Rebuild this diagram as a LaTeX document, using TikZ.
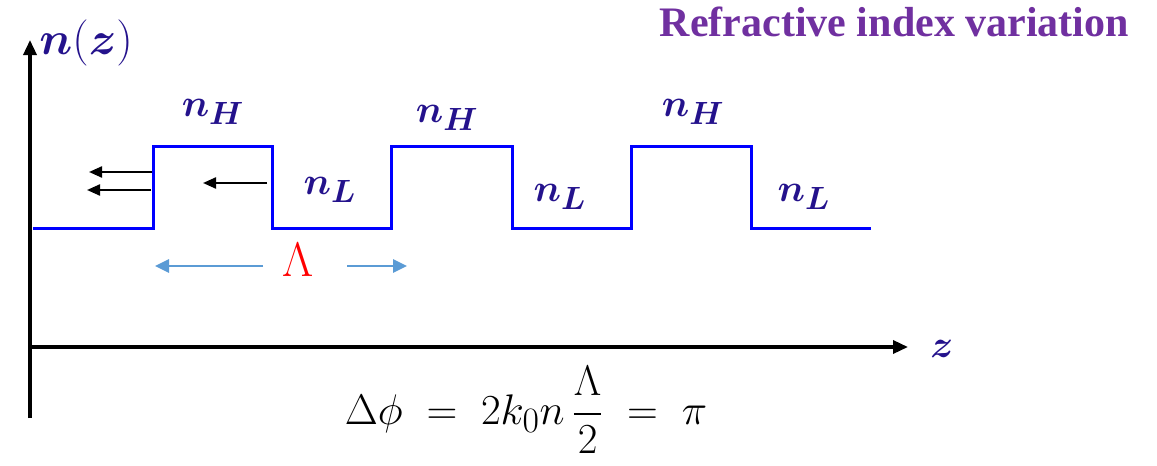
\documentclass[tikz,border=0pt]{standalone}
\usepackage{fontspec}
\usepackage{bm}
\usepackage{amsmath}
\newfontfamily\titlefont{Liberation Serif}
\usetikzlibrary{arrows.meta}
\definecolor{labblue}{RGB}{36,18,140}
\definecolor{titlepurple}{RGB}{112,48,160}
\definecolor{lamblue}{RGB}{91,155,213}
\tikzset{
  axis/.style={line width=3.4pt,-{Triangle[length=15pt,width=13pt]}},
  profile/.style={line width=3pt,color=blue,line join=miter},
  refl/.style={line width=2.2pt,-{Triangle[length=13pt,width=11pt]}},
  lamarrow/.style={line width=2.8pt,color=lamblue,-{Triangle[length=14pt,width=13pt]}},
  idxlabel/.style={text=labblue,font=\Huge,scale=1.55,inner sep=0pt},
}
\begin{document}
\begin{tikzpicture}[x=1pt,y=-1pt]
\useasboundingbox (0,0) rectangle (1157,466);
% axes
\coordinate (o) at (30,347);
\coordinate (ybot) at (30,418);
\coordinate (ytop) at (30,40);
\coordinate (xend) at (908,347);
\draw[line width=3.4pt] (ybot) -- (o);
\draw[axis] (o) -- (ytop);
\draw[axis] (o) -- (xend);
\node[idxlabel,scale=1.2,anchor=west] (nz) at (39,43) {$\bm{n}(\bm{z})$};
\node[idxlabel] (zl) at (942,349) {$\bm{z}$};
% profile
\draw[profile] (33,228) -- (153,228) -- (153,146) -- (272,146) -- (272,228) -- (391,228) -- (391,146)
  -- (512,146) -- (512,228) -- (631,228) -- (631,146) -- (751,146) -- (751,228) -- (871,228);
% labels
\node[idxlabel] (h1) at (213,112) {$\bm{n_H}$};
\node[idxlabel] (h2) at (447,118) {$\bm{n_H}$};
\node[idxlabel] (h3) at (693,112) {$\bm{n_H}$};
\node[idxlabel] (l1) at (330,190) {$\bm{n_L}$};
\node[idxlabel] (l2) at (560,197) {$\bm{n_L}$};
\node[idxlabel] (l3) at (804,197) {$\bm{n_L}$};
% reflected arrows
\coordinate (r1s) at (152,172); \coordinate (r1e) at (89,172);
\coordinate (r2s) at (151,190); \coordinate (r2e) at (87,190);
\coordinate (r3s) at (267,183); \coordinate (r3e) at (203,183);
\draw[refl] (r1s) -- (r1e);
\draw[refl] (r2s) -- (r2e);
\draw[refl] (r3s) -- (r3e);
% Lambda
\node[text=red,font=\Huge,scale=1.95,inner sep=0pt] (lam) at (298,260) {$\Lambda$};
\coordinate (la) at (263,266); \coordinate (lb) at (155,266);
\coordinate (lc) at (347,266); \coordinate (ld) at (407,266);
\draw[lamarrow] (la) -- (lb);
\draw[lamarrow] (lc) -- (ld);
% title
\node[text=titlepurple,font=\titlefont\bfseries\fontsize{42}{46}\selectfont,anchor=east,inner sep=0pt] (title) at (1129,22) {Refractive index variation};
% equation
\node[font=\Huge,scale=1.72,inner sep=0pt] (eq) at (526,410) {$\Delta\phi \;=\; 2k_0 n\,\dfrac{\Lambda}{2} \;=\; \pi$};
\end{tikzpicture}
\end{document}
